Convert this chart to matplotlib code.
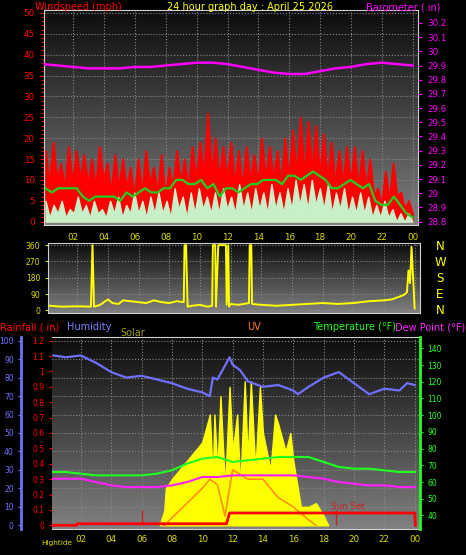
import numpy as np
import matplotlib.pyplot as plt

# ---- data ----
hour_labels = ['02', '04', '06', '08', '10', '12', '14', '16', '18', '20', '22', '00']
hour_ticks = [2, 4, 6, 8, 10, 12, 14, 16, 18, 20, 22, 24]

baro_hours = list(range(25))
baro = [29.91, 29.90, 29.89, 29.88, 29.88, 29.88, 29.89, 29.89, 29.90, 29.91, 29.92, 29.92,
        29.91, 29.89, 29.87, 29.85, 29.84, 29.84, 29.86, 29.88, 29.89, 29.91, 29.92, 29.91, 29.90]

wind_avg = [8, 7, 8, 8, 8, 8, 6, 5, 6, 6, 6, 6, 5, 7, 6, 7, 8, 7, 7, 8, 8, 10, 10, 9, 9, 10, 8, 9,
            6, 8, 8, 7, 8, 9, 9, 10, 10, 10, 9, 11, 11, 10, 11, 12, 11, 10, 8, 8, 9, 10, 9, 8, 9,
            5, 4, 4, 6, 4, 2, 1]
wind_gust = [17, 9, 19, 10, 14, 8, 18, 9, 17, 10, 16, 9, 15, 8, 18, 10, 14, 7, 16, 8, 15, 8,
             13, 6, 15, 7, 17, 9, 13, 7, 16, 6, 13, 8, 17, 9, 15, 8, 18, 10, 19, 11, 26, 11, 20,
             10, 18, 10, 19, 9, 17, 8, 18, 10, 16, 9, 20, 10, 18, 10, 17, 9, 20, 10, 22, 11, 25,
             11, 24, 12, 23, 11, 21, 10, 19, 9, 17, 9, 18, 9, 18, 8, 17, 8, 15, 6, 8, 4, 12, 5,
             14, 6, 7, 3, 5, 2]
wind_speed = [5, 1, 4, 2, 5, 1, 3, 2, 6, 2, 4, 1, 5, 2, 3, 1, 5, 2, 6, 1, 4, 2, 7, 2, 5, 1, 6, 2,
              7, 2, 5, 1, 8, 3, 6, 1, 7, 2, 8, 3, 6, 2, 7, 2, 8, 3, 6, 2, 9, 3, 7, 2, 8, 3, 7, 2,
              9, 3, 7, 2, 8, 3, 10, 4, 9, 3, 10, 4, 8, 3, 9, 2, 7, 3, 8, 2, 6, 2, 7, 2, 6, 1, 4, 1,
              5, 1, 3, 0, 2, 0, 2, 0]

dir_hours = [0.2, 1, 2, 2.9, 3.0, 3.1, 3.5, 4, 4.3, 4.7, 5, 5.5, 6, 6.5, 7, 7.5, 8, 8.5, 8.95,
             9.0, 9.1, 9.2, 9.5, 10, 10.5, 10.8, 10.85, 11.0, 11.05, 11.2, 11.25, 11.7, 11.75,
             11.85, 11.9, 12.0, 12.5, 13.2, 13.25, 13.35, 13.4, 14, 15, 16, 17, 18, 19, 20,
             21, 22, 22.5, 23, 23.3, 23.5, 23.6, 23.7, 23.8, 23.9, 24.0]
wind_dir = [25, 20, 22, 20, 360, 20, 30, 60, 40, 35, 55, 50, 45, 40, 55, 45, 40, 50, 45, 360,
            360, 20, 25, 30, 20, 25, 360, 360, 20, 360, 360, 360, 30, 360, 20, 35, 30, 40,
            360, 360, 35, 30, 25, 30, 35, 40, 35, 40, 50, 55, 60, 75, 85, 100, 220, 150,
            350, 180, 10]

hum_hours = [0.2, 1, 2, 3, 4, 5, 6, 7, 8, 9, 10, 10.5, 10.7, 11, 11.8, 12, 12.5, 13, 14, 15, 16,
             16.3, 17, 18, 19, 20, 21, 22, 23, 23.5, 24]
humidity = [92, 91, 92, 88, 83, 80, 81, 79, 77, 74, 72, 70, 80, 79, 91, 87, 84, 78, 75, 76, 73,
            71, 75, 80, 83, 77, 71, 74, 73, 77, 76]

temp_hours = list(range(25))
temperature = [66, 66, 65, 64, 64, 64, 64, 65, 67, 71, 74, 75, 72, 73, 74, 75, 75, 75, 72, 69,
               68, 68, 67, 66, 66]
dew_point = [62, 62, 62, 60, 58, 57, 57, 57, 58, 60, 63, 63, 64, 64, 64, 64, 64, 63, 62, 60, 59,
             58, 58, 57, 57]

solar_hours = [7.2, 7.5, 7.6, 8, 9, 10, 10.5, 10.7, 10.8, 11, 11.2, 11.5, 11.8, 12, 12.3, 12.5,
               12.8, 13, 13.2, 13.5, 13.8, 14, 14.5, 14.8, 15, 15.5, 15.8, 16, 16.5, 17, 17.5,
               18, 18.3]
solar = [0, 8, 20, 25, 35, 45, 60, 25, 60, 30, 70, 20, 75, 40, 60, 20, 78, 35, 78, 30, 75, 50,
         30, 60, 55, 40, 50, 35, 10, 10, 12, 5, 0]
uv_hours = [7.5, 10, 10.5, 11, 11.5, 12, 13, 14, 15, 16, 17, 17.5]
uv = [0, 20, 25, 22, 5, 30, 25, 25, 15, 10, 3, 0]

rain_hours = [0.2, 1.7, 1.75, 11.6, 11.8, 24.0, 24.05]
rain = [0, 0, 0.01, 0.01, 0.08, 0.08, 0]

W, H = 466, 555
fig = plt.figure(figsize=(W / 100, H / 100), dpi=100, facecolor='black')


def box(l, t, r, b):
    return [l / W, 1 - b / H, (r - l) / W, (b - t) / H]


def backdrop(ax):
    grad = np.linspace(0.05, 0.5, 100).reshape(-1, 1)
    ax.imshow(grad, cmap='gray', vmin=0, vmax=1, aspect='auto', extent=[0, 1, 0, 1],
              transform=ax.transAxes, zorder=0)
    ax.set_facecolor('black')
    ax.grid(True, color='#8a8a8a', linestyle=':', linewidth=0.8, zorder=1)
    for s in ax.spines.values():
        s.set_color('#cfcfcf')


fs = 6.3

# ---- top: wind and barometer ----
ax1 = fig.add_axes(box(44, 10, 418, 225))
backdrop(ax1)
t_g = np.linspace(0.2, 24.0, len(wind_gust))
t_s = np.linspace(0.2, 24.0, len(wind_speed))
t_a = np.linspace(0.2, 24.0, len(wind_avg))
ax1.fill_between(t_g, 0, wind_gust, color='red', zorder=2)
ax1.plot(t_g, wind_gust, color='red', lw=1, zorder=2)
ax1.fill_between(t_s, 0, wind_speed, color='#c8f0c8', zorder=3)
ax1.plot(t_a, wind_avg, color='#20d020', lw=1.6, zorder=4)
ax1.set_xlim(0.1, 24.35)
ax1.set_ylim(-0.8, 50.7)
ax1.set_yticks(range(0, 51, 5))
ax1.set_xticks(hour_ticks)
ax1.set_xticklabels(hour_labels)
ax1.tick_params(axis='y', colors='red', labelsize=fs, length=3)
ax1.tick_params(axis='x', colors='#dddd00', labelsize=fs, length=0, pad=6)
ax1.set_yticks(np.arange(0, 50.5, 1), minor=True)
ax1.tick_params(axis='y', which='minor', colors='red', length=2)

axb = ax1.twinx()
k = 1.4 / 47.6
axb.set_ylim(28.8 - 0.8 * k, 28.8 + 50.7 * k)
axb.plot(baro_hours, baro, color='#ff00ff', lw=1.8, zorder=5)
bt = np.round(np.arange(28.8, 30.21, 0.1), 1)
axb.set_yticks(bt)
axb.set_yticklabels([f'{v:g}' for v in bt])
axb.tick_params(axis='y', colors='#ff00ff', labelsize=fs, length=3)
for s in axb.spines.values():
    s.set_visible(False)

# ---- middle: wind direction ----
ax2 = fig.add_axes(box(48, 243, 420, 313))
backdrop(ax2)
ax2.plot(dir_hours, wind_dir, color='yellow', lw=1.4, zorder=3)
ax2.set_xlim(0.1, 24.35)
ax2.set_ylim(-15, 372)
ax2.set_yticks([0, 90, 180, 270, 360])
ax2.set_xticks(hour_ticks)
ax2.set_xticklabels([])
ax2.tick_params(axis='y', colors='#dddd00', labelsize=fs - 0.8, length=2)
ax2.tick_params(axis='x', length=0)
for i, c in enumerate(['N', 'W', 'S', 'E', 'N']):
    fig.text(440 / W, 1 - (246 + i * 16) / H, c, color='yellow', fontsize=8.5,
             ha='center', va='center')

# ---- bottom: humidity, solar, temperature ----
ax3 = fig.add_axes(box(52, 337, 420, 529))
backdrop(ax3)
ax3.fill_between(solar_hours, 0, solar, color='yellow', zorder=2)
ax3.plot(uv_hours, uv, color='#ff9010', lw=1.2, zorder=3)
ax3.plot(hum_hours, humidity, color='#7070ff', lw=1.6, zorder=6)
ax3.set_xlim(0.1, 24.35)
ax3.set_ylim(-2, 102)
ax3.set_yticks(range(0, 101, 10))
ax3.spines['left'].set_position(('outward', 22))
ax3.spines['left'].set_color('#7070ff')
ax3.spines['left'].set_linewidth(2)
ax3.tick_params(axis='y', colors='#7070ff', labelsize=fs - 0.8, length=2)
ax3.set_xticks(hour_ticks)
ax3.set_xticklabels(hour_labels)
ax3.tick_params(axis='x', colors='#dddd00', labelsize=fs, length=0, pad=4)

axr = ax3.twinx()
axr.yaxis.tick_left()
axr.plot(rain_hours, rain, color='red', lw=2, zorder=7)
axr.vlines([6.0, 7.4, 18.8], 0, [0.1, 0.02, 0.1], color='#cc2020', lw=1)
axr.text(18.5, 0.105, 'Sun Set', color='#cc2020', fontsize=fs)
axr.set_ylim(-0.024, 1.224)
rt = np.round(np.arange(0, 1.21, 0.1), 1)
axr.set_yticks(rt)
axr.set_yticklabels([f'{v:g}' for v in rt])
axr.tick_params(axis='y', colors='red', labelsize=fs - 0.8, length=2)
for s in axr.spines.values():
    s.set_visible(False)

axt = ax3.twinx()
axt.plot(temp_hours, temperature, color='#20ff20', lw=1.5, zorder=5)
axt.plot(temp_hours, dew_point, color='#ff20ff', lw=1.5, zorder=5)
axt.set_ylim(31.9, 146.8)
axt.set_yticks(range(40, 141, 10))
axt.tick_params(axis='y', colors='#20ff20', labelsize=fs - 0.8, length=2)
axt.spines['right'].set_color('#20ff20')
axt.spines['right'].set_linewidth(2)
for n in ['left', 'top', 'bottom']:
    axt.spines[n].set_visible(False)

fig.text(41 / W, 1 - 543 / H, 'Hightide', color='#dddd00', fontsize=fs - 1, va='center')


# ---- titles ----
def label(x, y, s, c, ha='left'):
    fig.text(x / W, 1 - y / H, s, color=c, fontsize=fs + 0.7, ha=ha, va='center')


label(35, 7, 'Windspeed (mph)', 'red')
label(250, 7, '24 hour graph day : April 25 2026', 'yellow', ha='center')
label(440, 7, 'Barometer (.in)', '#ff00ff', ha='right')
label(0, 327, 'Rainfall (.in)', 'red')
label(67, 327, 'Humidity', '#8080ff')
label(120, 333, 'Solar', '#a0a020')
label(247, 327, 'UV', '#ff8020')
label(313, 327, 'Temperature (°F)', '#20ff20')
label(395, 327, 'Dew Point (°F)', '#ff20ff')

fig.savefig('out.png', dpi=100, facecolor='black')
